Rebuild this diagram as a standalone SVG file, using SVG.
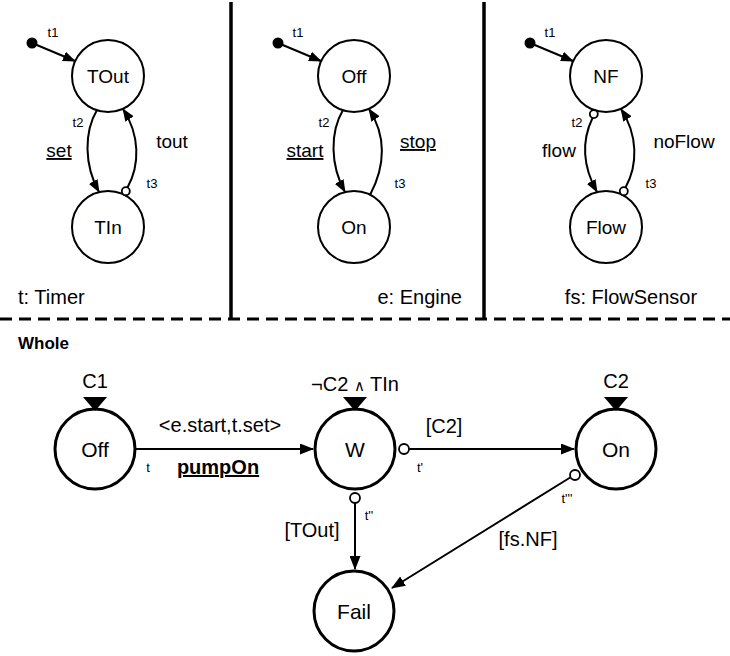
<svg xmlns="http://www.w3.org/2000/svg" width="730" height="656" viewBox="0 0 730 656">
<style>
text{font-family:"Liberation Sans",Arial,sans-serif;fill:#000}
.st{fill:#fff;stroke:#000;stroke-width:2}
.bst{fill:#fff;stroke:#000;stroke-width:3}
.nl{font-size:19px;text-anchor:middle}
.bnl{font-size:21px;text-anchor:middle}
.el{font-size:19px}
.bel{font-size:20px;text-anchor:middle}
.sm{font-size:13px}
.tln{fill:none;stroke:#000;stroke-width:2;marker-end:url(#ah)}
.bln{fill:none;stroke:#000;stroke-width:2;marker-end:url(#bh)}
.oc{fill:#fff;stroke:#000;stroke-width:1.8}
.sep{stroke:#000;stroke-width:3.5}
</style>
<defs>
<marker id="ah" viewBox="0 0 13 10" refX="12" refY="5" markerWidth="13" markerHeight="10" markerUnits="userSpaceOnUse" orient="auto"><path d="M0,0 L13,5 L0,10 z"/></marker>
<marker id="bh" viewBox="0 0 14 11" refX="13" refY="5.5" markerWidth="14" markerHeight="11" markerUnits="userSpaceOnUse" orient="auto"><path d="M0,0 L14,5.5 L0,11 z"/></marker>
</defs>

<g id="separators">
<line class="sep" x1="231" y1="2" x2="231" y2="319"/>
<line class="sep" x1="484" y1="2" x2="484" y2="319"/>
<line x1="0" y1="319" x2="730" y2="319" stroke="#000" stroke-width="3" stroke-dasharray="12 7"/>
</g>

<!-- Timer panel -->
<g id="timer-init"><circle cx="32" cy="43" r="5.5"/></g>
<g id="TOut"><circle class="st" cx="108" cy="76" r="36"/><text class="nl" x="108" y="83">TOut</text></g>
<g id="TIn"><circle class="st" cx="108" cy="227" r="36"/><text class="nl" x="108" y="234">TIn</text></g>
<g id="timer-edges">
<line class="tln" x1="32" y1="43" x2="75" y2="61"/>
<path class="tln" d="M97,110 C84,132 84,165 99,192"/>
<path class="tln" d="M127.5,187.5 C140,165 140,135 123,109"/>
<circle class="oc" cx="125.8" cy="191.2" r="4"/>
</g>
<g id="timer-labels">
<text class="sm" x="53" y="37" text-anchor="middle">t1</text>
<text class="sm" x="78" y="127" text-anchor="middle">t2</text>
<text class="el" x="59" y="157" text-anchor="middle" text-decoration="underline">set</text>
<text class="el" x="172" y="148" text-anchor="middle">tout</text>
<text class="sm" x="152" y="188" text-anchor="middle">t3</text>
<text font-size="20" x="18" y="304">t: Timer</text>
</g>

<!-- Engine panel -->
<g id="engine-init"><circle cx="278" cy="43" r="5.5"/></g>
<g id="EOff"><circle class="st" cx="354" cy="76" r="36"/><text class="nl" x="354" y="83">Off</text></g>
<g id="EOn"><circle class="st" cx="354" cy="227" r="36"/><text class="nl" x="354" y="234">On</text></g>
<g id="engine-edges">
<line class="tln" x1="278" y1="43" x2="321" y2="61"/>
<path class="tln" d="M343,110 C330,132 330,165 345,192"/>
<path class="tln" d="M370,195 C386,165 386,135 369,109"/>
</g>
<g id="engine-labels">
<text class="sm" x="298" y="37" text-anchor="middle">t1</text>
<text class="sm" x="324" y="127" text-anchor="middle">t2</text>
<text class="el" x="305" y="157" text-anchor="middle" text-decoration="underline">start</text>
<text class="el" x="418" y="148" text-anchor="middle" text-decoration="underline">stop</text>
<text class="sm" x="400" y="188" text-anchor="middle">t3</text>
<text font-size="20" x="462" y="304" text-anchor="end">e: Engine</text>
</g>

<!-- FlowSensor panel -->
<g id="fs-init"><circle cx="530" cy="43" r="5.5"/></g>
<g id="NF"><circle class="st" cx="606" cy="76" r="36"/><text class="nl" x="606" y="83">NF</text></g>
<g id="Flow"><circle class="st" cx="606" cy="227" r="36"/><text class="nl" x="606" y="234">Flow</text></g>
<g id="fs-edges">
<line class="tln" x1="530" y1="43" x2="573" y2="61"/>
<path class="tln" d="M592.5,118 C582,140 582,165 597,192"/>
<circle class="oc" cx="593.8" cy="114.1" r="4"/>
<path class="tln" d="M625.5,187.5 C638,165 638,135 621,109"/>
<circle class="oc" cx="623.8" cy="191.2" r="4"/>
</g>
<g id="fs-labels">
<text class="sm" x="550" y="37" text-anchor="middle">t1</text>
<text class="sm" x="577" y="127" text-anchor="middle">t2</text>
<text class="el" x="559" y="157" text-anchor="middle">flow</text>
<text class="el" x="684" y="148" text-anchor="middle">noFlow</text>
<text class="sm" x="651" y="188" text-anchor="middle">t3</text>
<text font-size="20" x="631" y="304" text-anchor="middle">fs: FlowSensor</text>
</g>

<!-- Whole -->
<text x="18" y="349" font-size="17" font-weight="bold">Whole</text>

<g id="WOff">
<circle class="bst" cx="95" cy="449" r="40"/><text class="bnl" x="95" y="457">Off</text>
<path d="M83,397 L107,397 L95,411 z"/><text class="bel" x="95" y="388">C1</text>
</g>
<g id="W">
<circle class="bst" cx="355" cy="449" r="40"/><text class="bnl" x="355" y="457">W</text>
<path d="M343,397 L367,397 L355,411 z"/><text class="bel" x="355" y="391">¬C2 <tspan font-size="15">∧</tspan> TIn</text>
</g>
<g id="WOn">
<circle class="bst" cx="616" cy="449" r="40"/><text class="bnl" x="616" y="457">On</text>
<path d="M604,397 L628,397 L616,411 z"/><text class="bel" x="616" y="388">C2</text>
</g>
<g id="Fail">
<circle class="bst" cx="354" cy="611" r="40"/><text class="bnl" x="354" y="619">Fail</text>
</g>

<g id="whole-edges">
<line class="bln" x1="136" y1="449" x2="313" y2="449"/>
<line class="bln" x1="409" y1="449" x2="574" y2="449"/>
<circle class="oc" cx="404" cy="449" r="5"/>
<line class="bln" x1="355" y1="503" x2="355" y2="569"/>
<circle class="oc" cx="355" cy="498" r="5"/>
<line class="bln" x1="571" y1="477" x2="392" y2="588"/>
<circle class="oc" cx="575" cy="475" r="5"/>
</g>
<g id="whole-labels">
<text class="bel" x="220" y="432">&lt;e.start,t.set&gt;</text>
<text class="sm" x="148" y="472" text-anchor="middle">t</text>
<text class="bel" x="218" y="474" font-weight="bold" text-decoration="underline">pumpOn</text>
<text class="bel" x="444" y="433">[C2]</text>
<text class="sm" x="420" y="472" text-anchor="middle">t'</text>
<text class="sm" x="369" y="520" text-anchor="middle">t''</text>
<text class="bel" x="312" y="537">[TOut]</text>
<text class="sm" x="567" y="503" text-anchor="middle">t'''</text>
<text class="bel" x="528" y="546">[fs.NF]</text>
</g>
</svg>
